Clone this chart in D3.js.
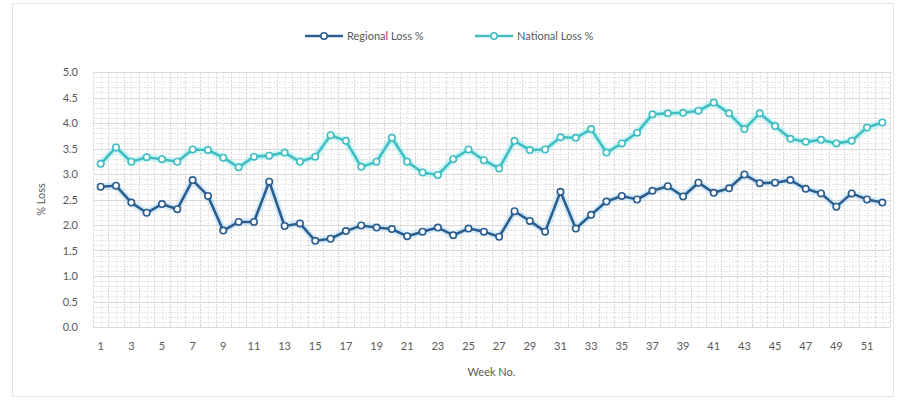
<!DOCTYPE html>
<html>
<head>
<meta charset="utf-8">
<script src="https://cdn.jsdelivr.net/npm/d3@7"></script>
<style>
  body { margin: 0; background: #fff; }
  text { font-family: Lato, "Open Sans", sans-serif; fill: #595959; }
</style>
</head>
<body>
<div class="graf"></div>
<script>
// data
const weeks = d3.range(1, 53);
const regionalLoss = [2.75, 2.77, 2.44, 2.24, 2.41, 2.31, 2.88, 2.57, 1.89, 2.06,
  2.06, 2.85, 1.98, 2.03, 1.69, 1.73, 1.88, 1.99, 1.95, 1.92,
  1.78, 1.87, 1.95, 1.80, 1.93, 1.87, 1.77, 2.27, 2.08, 1.87,
  2.65, 1.93, 2.20, 2.46, 2.57, 2.50, 2.67, 2.76, 2.56, 2.83,
  2.63, 2.72, 2.99, 2.82, 2.83, 2.88, 2.71, 2.62, 2.36, 2.62,
  2.50, 2.44];
const nationalLoss = [3.20, 3.52, 3.24, 3.33, 3.29, 3.24, 3.48, 3.47, 3.32, 3.13,
  3.34, 3.36, 3.42, 3.24, 3.34, 3.76, 3.65, 3.14, 3.24, 3.71,
  3.24, 3.03, 2.98, 3.29, 3.48, 3.27, 3.11, 3.65, 3.47, 3.48,
  3.72, 3.71, 3.88, 3.42, 3.60, 3.81, 4.17, 4.19, 4.20, 4.24,
  4.40, 4.19, 3.88, 4.19, 3.94, 3.69, 3.63, 3.67, 3.60, 3.65,
  3.91, 4.01];
const yTicks = [0, 0.5, 1, 1.5, 2, 2.5, 3, 3.5, 4, 4.5, 5];
const seriesNames = ['Regional Loss %', 'National Loss %'];

//---------------- settings
const width = 898, height = 401;
const plot = { left: 93, right: 890, top: 72, bottom: 327 };
const colReg = '#2c5d8f', glowReg = '#a6d8f2';
const colNat = '#42bec2', glowNat = '#93f0f0';

let svg = d3.select('.graf')
  .append('svg')
  .attr('width', width)
  .attr('height', height);

// outer frame
svg.append('rect')
  .attr('x', 12.5).attr('y', 3.5)
  .attr('width', 881).attr('height', 393)
  .attr('fill', 'none').attr('stroke', '#e3e3e3');

let x = d3.scaleBand().domain(weeks).range([plot.left, plot.right]);
let y = d3.scaleLinear().domain([0, 5]).range([plot.bottom, plot.top]);
const cx = d => x(d) + x.bandwidth() / 2;

//---------------- grid
let grid = svg.append('g');
grid.selectAll('.hmin')
  .data(d3.range(0, 51).map(i => i / 10))
  .join('line')
  .attr('x1', plot.left).attr('x2', plot.right)
  .attr('y1', d => Math.round(y(d)) + 0.5).attr('y2', d => Math.round(y(d)) + 0.5)
  .attr('stroke', '#e6e6e6').attr('stroke-dasharray', '2,1');
grid.selectAll('.vmin')
  .data(weeks)
  .join('line')
  .attr('x1', d => Math.round(cx(d)) + 0.5).attr('x2', d => Math.round(cx(d)) + 0.5)
  .attr('y1', plot.top).attr('y2', plot.bottom)
  .attr('stroke', '#e9e9e9').attr('stroke-dasharray', '2,1');
grid.selectAll('.vmaj')
  .data(weeks.concat([53]))
  .join('line')
  .attr('x1', d => Math.round(d === 53 ? plot.right : x(d)) + 0.5)
  .attr('x2', d => Math.round(d === 53 ? plot.right : x(d)) + 0.5)
  .attr('y1', plot.top).attr('y2', plot.bottom)
  .attr('stroke', '#dcdcdc').attr('stroke-dasharray', '3,1');
grid.selectAll('.hmaj')
  .data(yTicks)
  .join('line')
  .attr('x1', plot.left).attr('x2', plot.right)
  .attr('y1', d => Math.round(y(d)) + 0.5).attr('y2', d => Math.round(y(d)) + 0.5)
  .attr('stroke', '#dadada');

//---------------- axes
let yAxis = svg.append('g')
  .attr('transform', `translate(${plot.left - 12},0)`)
  .call(d3.axisLeft(y).tickValues(yTicks).tickFormat(d3.format('.1f')).tickSize(0));
yAxis.select('.domain').remove();
yAxis.selectAll('text').style('font-size', '11px').attr('fill', '#595959')
  .style('font-family', 'Lato, sans-serif');

let xAxis = svg.append('g')
  .attr('transform', `translate(0,${plot.bottom + 12})`)
  .call(d3.axisBottom(x).tickValues(weeks.filter(d => d % 2 === 1)).tickSize(0));
xAxis.select('.domain').remove();
xAxis.selectAll('text').style('font-size', '11px').attr('fill', '#595959')
  .style('font-family', 'Lato, sans-serif');

svg.append('text')
  .attr('x', (plot.left + plot.right) / 2).attr('y', 376)
  .attr('text-anchor', 'middle').style('font-size', '11px')
  .text('Week No.');
svg.append('text')
  .attr('transform', `translate(45,${(plot.top + plot.bottom) / 2}) rotate(-90)`)
  .attr('text-anchor', 'middle').style('font-size', '11px')
  .text('% Loss');

//---------------- series
function drawSeries(vals, col, glow) {
  let g = svg.append('g');
  let line = d3.line().x((d, i) => cx(weeks[i])).y(d => y(d));
  g.append('path').datum(vals).attr('d', line)
    .attr('fill', 'none').attr('stroke', glow).attr('stroke-width', 7)
    .attr('stroke-opacity', 0.45).attr('stroke-linejoin', 'round');
  g.append('path').datum(vals).attr('d', line)
    .attr('fill', 'none').attr('stroke', col).attr('stroke-width', 2.6)
    .attr('stroke-linejoin', 'round');
  g.selectAll('circle').data(vals).join('circle')
    .attr('cx', (d, i) => cx(weeks[i])).attr('cy', d => y(d))
    .attr('r', 3.2).attr('fill', '#fff').attr('stroke', col).attr('stroke-width', 1.6);
}
drawSeries(nationalLoss, colNat, glowNat);
drawSeries(regionalLoss, colReg, glowReg);

//---------------- legend
const legendX = [305, 475];
const legendCols = [colReg, colNat];
seriesNames.forEach((name, i) => {
  let lg = svg.append('g').attr('transform', `translate(${legendX[i]},36)`);
  lg.append('line').attr('x1', 0).attr('x2', 38).attr('y1', 0).attr('y2', 0)
    .attr('stroke', legendCols[i]).attr('stroke-width', 2.6);
  lg.append('circle').attr('cx', 19).attr('cy', 0).attr('r', 3.2)
    .attr('fill', '#fff').attr('stroke', legendCols[i]).attr('stroke-width', 1.6);
  lg.append('text').attr('x', 42).attr('y', 4).style('font-size', '11px').text(name);
});
</script>
</body>
</html>
